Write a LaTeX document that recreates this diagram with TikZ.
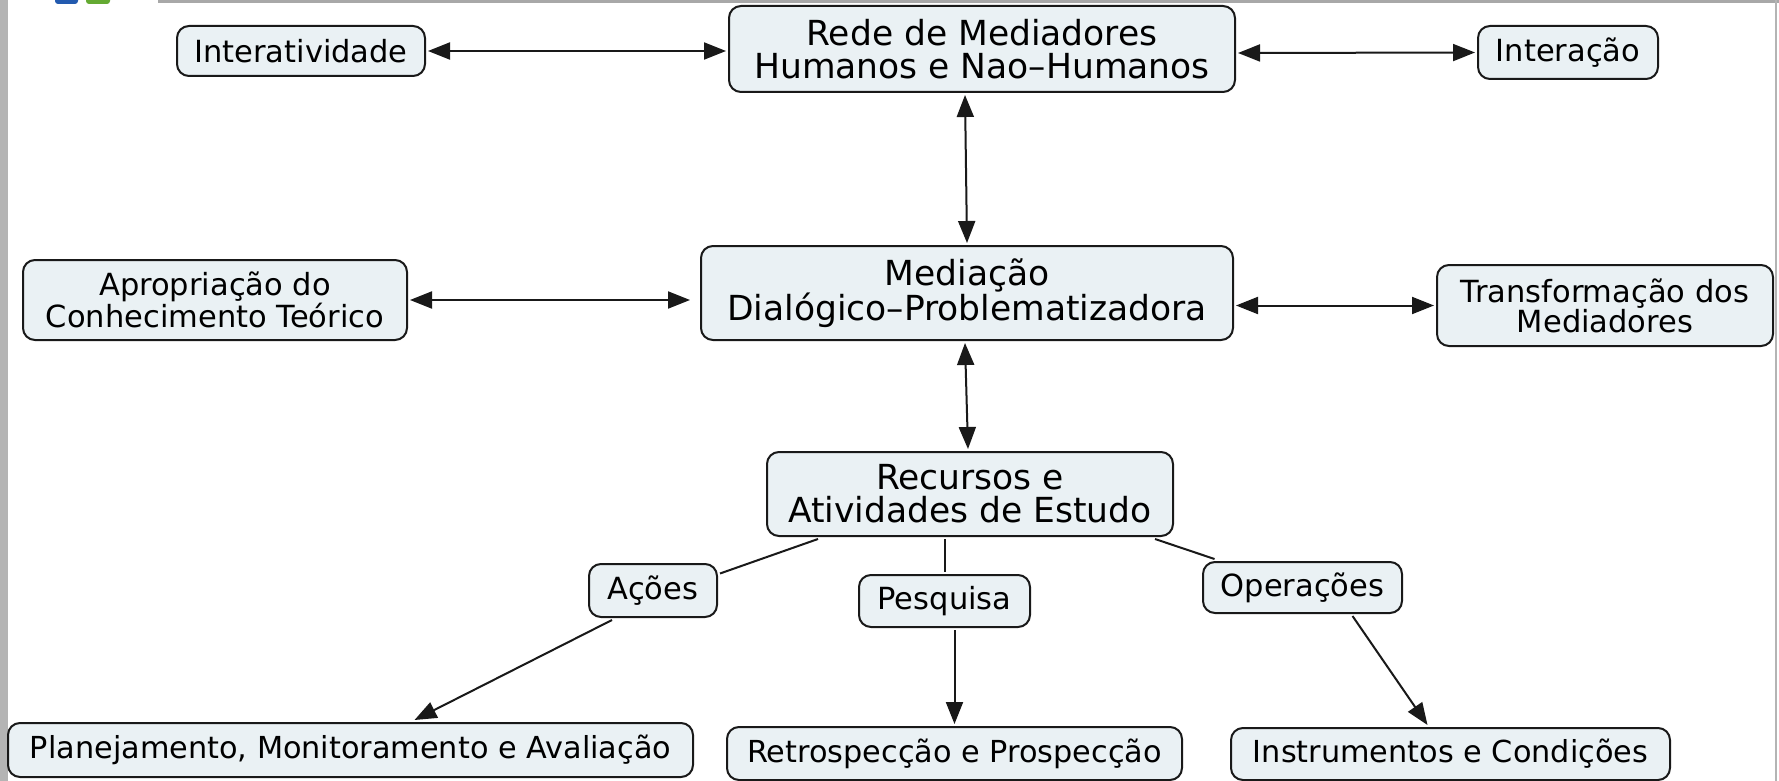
\documentclass[tikz,border=0pt]{standalone}
\usepackage{fontspec}
\setmainfont{DejaVu Sans}
\newfontfamily\plainf{DejaVu Sans}
\usetikzlibrary{arrows.meta,calc}
\definecolor{boxfill}{RGB}{234,241,244}
\definecolor{stripgray}{RGB}{180,180,180}
\definecolor{bargray}{RGB}{168,168,168}
\definecolor{logoblue}{RGB}{35,90,175}
\definecolor{logogreen}{RGB}{100,170,50}
\tikzset{
  concept/.style={draw=black!90, line width=2pt, rounded corners=12pt, fill=boxfill,
    inner sep=0pt, outer sep=3pt, align=center, text=black},
  smallc/.style={concept, font=\plainf\fontsize{30.5}{30}\selectfont},
  bigc/.style={concept, font=\plainf\fontsize{34.5}{33}\selectfont},
  lowc/.style={concept, font=\plainf\fontsize{30.3}{34}\selectfont},
  link/.style={line width=2pt, draw=black!90},
  biarrow/.style={link, {Triangle[length=22pt,width=17pt]}-{Triangle[length=22pt,width=17pt]}},
  toarrow/.style={link, -{Triangle[length=22pt,width=17pt]}},
}
\begin{document}
\begin{tikzpicture}[x=1pt,y=-1pt]
\useasboundingbox (0,0) rectangle (1779,781);
\fill[white] (0,0) rectangle (1779,781);
% frame decorations
\fill[stripgray] (0,0) rectangle (7.5,781);
\fill[bargray] (158,0) rectangle (1779,3.5);
\fill[stripgray] (1775,0) rectangle (1777,781);
\fill[logoblue, rounded corners=3pt] (55,-8) rectangle (78,4);
\fill[logogreen, rounded corners=3pt] (86,-8) rectangle (110,4);

% nodes
\node[smallc, minimum width=248pt, minimum height=50pt] (interat) at (301,51) {Interatividade};
\node[bigc, minimum width=506pt, minimum height=86pt] (rede) at (982,49) {Rede de Mediadores\\Humanos e Nao–Humanos};
\node[smallc, minimum width=180pt, minimum height=53pt] (interacao) at (1568,52.5) {Interação};
\node[smallc, minimum width=384pt, minimum height=80pt] (aprop) at (215,300) {Apropriação do\\Conhecimento Teórico};
\node[bigc, minimum width=532pt, minimum height=94pt] (mediacao) at (967,293) {Mediação\\Dialógico–Problematizadora};
\node[smallc, minimum width=336pt, minimum height=81pt] (transf) at (1605,305.5) {Transformação dos\\Mediadores};
\node[bigc, minimum width=406pt, minimum height=84pt] (recursos) at (970,494) {Recursos e\\Atividades de Estudo};
\node[smallc, minimum width=128pt, minimum height=53pt] (acoes) at (653,590.5) {Ações};
\node[smallc, minimum width=171pt, minimum height=52pt] (pesquisa) at (944.5,601) {Pesquisa};
\node[smallc, minimum width=199pt, minimum height=51pt] (operacoes) at (1302.5,587.5) {Operações};
\node[lowc, minimum width=685pt, minimum height=54pt] (planej) at (350.5,750) {Planejamento, Monitoramento e Avaliação};
\node[lowc, minimum width=455pt, minimum height=53pt] (retro) at (954.5,753.5) {Retrospecção e Prospecção};
\node[lowc, minimum width=439pt, minimum height=52pt] (instr) at (1450.5,754) {Instrumentos e Condições};

% connectors
\draw[biarrow] (interat.east) -- (interat.east -| rede.west);
\draw[biarrow] ([yshift=-4pt]rede.east) -- (interacao.west);
\draw[biarrow] ([xshift=-17pt]rede.south) -- (mediacao.north);
\draw[biarrow] (aprop.east) -- ([xshift=-8pt]aprop.east -| mediacao.west);
\draw[biarrow] (transf.west -| mediacao.east) -- (transf.west);
\draw[biarrow] ([xshift=-2pt]mediacao.south) -- ([xshift=-2pt]recursos.north);
\draw[link] ([xshift=-152pt]recursos.south) -- ([yshift=17pt]acoes.east);
\draw[toarrow] ([xshift=-41pt]acoes.south) -- ([xshift=64pt]planej.north);
\draw[link] (recursos.south -| pesquisa.north) -- (pesquisa.north);
\draw[toarrow] (pesquisa.south -| retro.north) -- (retro.north);
\draw[link] ([xshift=185pt]recursos.south) -- ([xshift=-88pt]operacoes.north);
\draw[toarrow] ([xshift=50pt]operacoes.south) -- ([xshift=-23pt]instr.north);
\end{tikzpicture}
\end{document}
